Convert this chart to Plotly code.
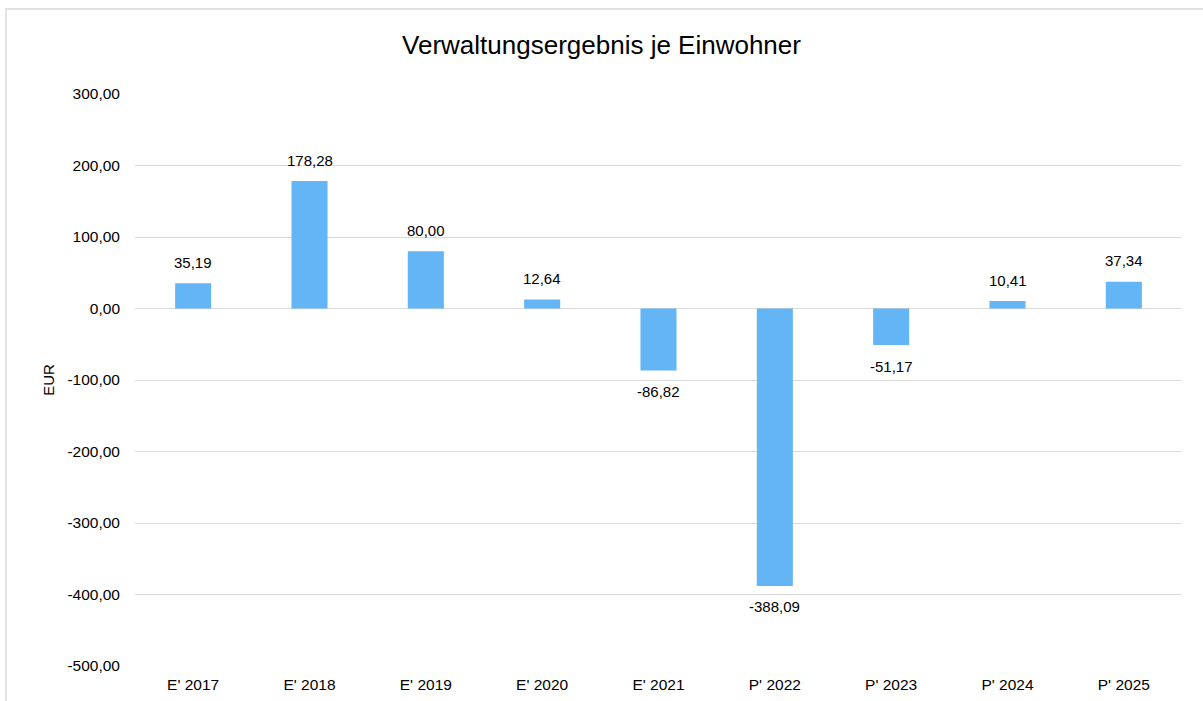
import plotly.graph_objects as go

categories = ["E' 2017", "E' 2018", "E' 2019", "E' 2020", "E' 2021",
              "P' 2022", "P' 2023", "P' 2024", "P' 2025"]
values = [35.19, 178.28, 80.00, 12.64, -86.82, -388.09, -51.17, 10.41, 37.34]
y_ticks = [300, 200, 100, 0, -100, -200, -300, -400, -500]


def fmt(v):
    return f"{v:.2f}".replace(".", ",")


FONT = "Liberation Sans, Arial, sans-serif"

fig = go.Figure(
    go.Bar(
        x=categories,
        y=values,
        marker=dict(color="#64B5F6", line=dict(width=0)),
        cliponaxis=False,
        hoverinfo="x+y",
    )
)

L, R, T, B = 135, 21, 94, 35
W, H = 1203, 701
pw = W - L - R
ph = H - T - B

annotations = []
for c, v in zip(categories, values):
    annotations.append(dict(
        x=c, y=v, xref="x", yref="y",
        text=fmt(v), showarrow=False,
        yanchor="middle", xanchor="center",
        yshift=21 if v >= 0 else -21,
        font=dict(size=15, color="#000000", family=FONT),
    ))

fig.update_layout(
    width=W,
    height=H,
    margin=dict(l=L, r=R, t=T, b=B, autoexpand=False),
    paper_bgcolor="white",
    plot_bgcolor="white",
    bargap=0.69,
    showlegend=False,
    font=dict(family=FONT, size=15, color="#000000"),
    title=dict(
        text="Verwaltungsergebnis je Einwohner",
        x=0.5, xref="container", xanchor="center",
        y=1 - 45 / H, yref="container", yanchor="middle",
        font=dict(size=26, color="#000000", family=FONT),
    ),
    xaxis=dict(
        automargin=False,
        showgrid=False,
        showline=False,
        ticks="",
        ticklabelstandoff=7,
        tickfont=dict(size=15.5, color="#000000"),
    ),
    yaxis=dict(
        automargin=False,
        range=[-500, 300],
        tickvals=y_ticks,
        ticktext=[fmt(t) for t in y_ticks],
        showgrid=True,
        gridcolor="#d9d9d9",
        gridwidth=1,
        zeroline=True,
        zerolinecolor="#d9d9d9",
        zerolinewidth=1,
        showline=False,
        ticks="",
        ticklabelstandoff=14,
        tickfont=dict(size=15.5, color="#000000"),
        title=dict(text="EUR", font=dict(size=15, color="#000000"), standoff=9),
    ),
    annotations=annotations,
    shapes=[
        dict(
            type="rect", xref="paper", yref="paper",
            x0=(6 - L) / pw, x1=1.3, y0=-0.3, y1=(H - B - 9) / ph,
            line=dict(color="#d9d9d9", width=1.5),
            fillcolor="rgba(0,0,0,0)",
            layer="below",
        )
    ],
)

fig.write_html("out.html", config={"displayModeBar": False},
               post_script="document.body.style.margin='0';")
